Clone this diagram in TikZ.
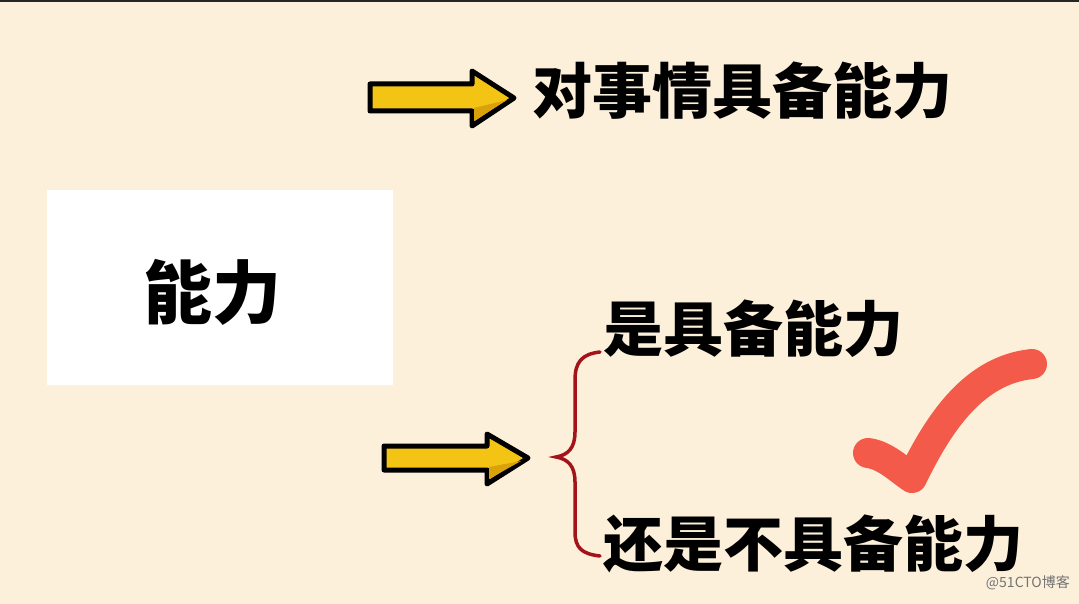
\documentclass[tikz,border=0pt]{standalone}
\usepackage{fontspec}
\newfontfamily\cjk{Noto Sans CJK SC}
\definecolor{paper}{HTML}{FCF0DB}
\definecolor{arrowfill}{HTML}{F4C414}
\definecolor{arrowshade}{HTML}{D9A20A}
\definecolor{bracered}{HTML}{A3141A}
\definecolor{tickred}{HTML}{F35A4A}
\begin{document}
\begin{tikzpicture}[x=1pt,y=-1pt,
  bigarrow/.style={draw=black, line width=5pt, line join=round, fill=arrowfill},
  label/.style={font=\cjk\bfseries\fontsize{60}{62}\selectfont, text=black, inner sep=0pt, anchor=west},
  card/.style={fill=white, draw=none},
  brace/.style={draw=bracered, line width=3.5pt, line cap=round},
  tick/.style={draw=tickred, line width=30pt, line cap=round, line join=round},
  wmtext/.style={font=\cjk\fontsize{14}{16}\selectfont, text=black!55, inner sep=0pt}]
  % page
  \fill[paper] (0,0) rectangle (1079,604);
  \fill[black!85] (0,0) rectangle (1079,2);
  \useasboundingbox (0,0) rectangle (1079,604);

  % white card with the main term
  \fill[card] (47,190) rectangle (393,385);
  \node[font=\cjk\bfseries\fontsize{69}{71}\selectfont, inner sep=0pt] (term) at (212,292) {能力};

  % upper arrow and its label
  \draw[bigarrow] (370,84) -- (472,84) -- (472,71) -- (514,98) -- (472,126) -- (472,111) -- (370,111) -- cycle;
  \fill[arrowshade] (474,108) -- (507,100) -- (474,121) -- cycle;
  \coordinate (a1) at (514,98);
  \node[label] (top) at (532,91) {对事情具备能力};

  % lower arrow
  \draw[bigarrow] (384,446) -- (487,446) -- (487,434) -- (528,458) -- (487,484) -- (487,470) -- (384,470) -- cycle;
  \fill[arrowshade] (489,467) -- (521,461) -- (489,479) -- cycle;
  \coordinate (a2) at (528,458);

  % curly brace
  \draw[brace] (600,352) .. controls (582,354) and (575,362) .. (575,380)
    -- (575,432) .. controls (575,448) and (568,455) .. (556,457)
    .. controls (568,459) and (575,466) .. (575,482)
    -- (575,532) .. controls (575,548) and (582,554) .. (600,556);
  \coordinate (bt) at (600,352);
  \coordinate (bb) at (600,556);

  % the two branches
  \node[label] (yes) at (603,329) {是具备能力};
  \node[label] (no) at (603,544) {还是不具备能力};

  % tick mark
  \draw[tick] (868,453) .. controls (885,455) and (900,470) .. (912,478)
    .. controls (940,420) and (975,370) .. (1032,364);

  % watermark
  \node[wmtext, anchor=east] (wm) at (1070,583) {@51CTO博客};
\end{tikzpicture}
\end{document}
